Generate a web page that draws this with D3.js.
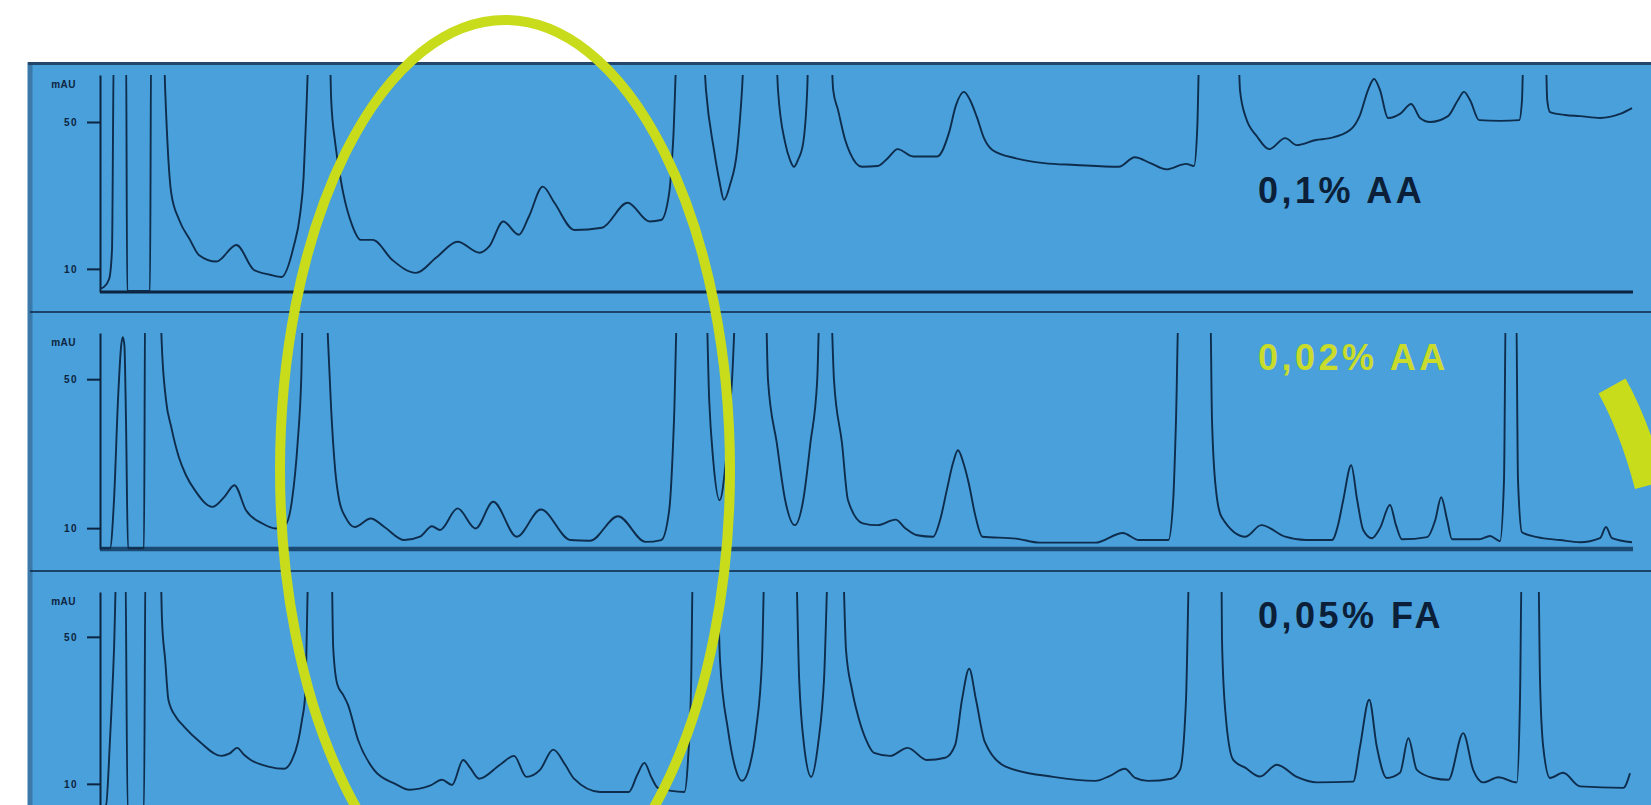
<!DOCTYPE html>
<html><head><meta charset="utf-8">
<script src="https://cdn.jsdelivr.net/npm/d3@7"></script>
<style>html,body{margin:0;padding:0;background:#fff;overflow:hidden}svg{display:block}</style>
</head><body>
<svg id="chart" width="1651" height="805"></svg>
<script>
// ---- data (retention time in min, absorbance in mAU) ----
const sampleLabels = ["0,1% AA", "0,02% AA", "0,05% FA"];
const yTickValues = [10, 50];
const yUnit = "mAU";

const rt1 = [0.00,0.10,0.23,0.30,0.35,0.65,0.68,1.25,1.28,1.58,1.63,1.78,1.98,2.25,2.47,2.91,3.41,3.85,4.25,4.54,4.84,5.00,5.09,5.15,5.25,5.73,5.78,5.88,6.08,6.30,6.52,6.82,7.31,7.90,8.40,8.94,9.49,9.73,10.08,10.47,10.72,11.07,11.36,11.86,12.55,13.19,13.74,14.03,14.23,14.33,14.45,15.05,15.15,15.35,15.48,15.60,15.75,15.93,16.05,16.13,16.88,16.95,17.13,17.25,17.35,17.45,17.58,17.68,17.73,18.25,18.33,18.45,18.63,18.75,19.05,19.44,19.70,19.94,20.33,20.93,21.22,21.40,21.60,21.75,21.92,22.10,22.31,22.90,23.60,24.39,25.47,25.87,26.26,26.66,27.15,27.35,27.43,27.50,28.44,28.50,28.64,28.93,29.23,29.63,29.92,30.40,30.75,31.25,31.50,31.70,31.85,32.00,32.20,32.50,32.78,33.00,33.25,33.70,33.95,34.10,34.25,34.48,35.00,35.48,35.55,35.60,36.13,36.18,36.25,36.63,37.00,37.50,38.00,38.30];
const abs1 = [4.6,5.1,7.3,15.2,75,75,4.0,4.0,75,75,58.7,30.7,23.3,17.9,13.8,12.0,16.5,9.7,8.4,7.8,16.0,24.7,35.0,50.5,75,75,56,44.3,30.7,22.0,17.9,17.9,12.4,8.9,13.0,17.4,14.4,16.1,22.9,19.3,24.2,32.4,28.0,20.6,21.2,28.0,22.9,23.3,30.7,45.1,75,75,58.7,42.4,34.2,28.8,32.9,42.4,58.7,75,75,58.7,44.3,39.7,37.8,39.7,44.3,58.7,75,75,58.7,53.3,45.1,41.6,37.8,38.0,40.2,42.6,40.6,40.6,46.9,54.6,58.2,56.0,51.4,45.6,42.4,40.1,38.8,38.3,37.8,40.4,38.8,37.1,38.6,38.0,47.8,75,75,58.7,51.4,46.0,42.6,45.6,43.7,45.1,45.6,47.8,51.9,58.7,61.7,58.7,51.1,52.2,54.9,51.1,50.0,51.6,56.0,58.2,56.0,50.5,50.3,50.5,56.0,75,75,56.0,52.7,51.9,51.6,51.1,52.2,53.8];

const rt2 = [0.00,0.25,0.35,0.45,0.53,0.57,0.61,0.65,0.70,1.10,1.13,1.50,1.54,1.65,1.78,1.97,2.15,2.37,2.81,3.11,3.36,3.65,4.05,4.39,4.63,4.80,4.94,5.03,5.09,5.65,5.70,5.78,5.88,5.98,6.15,6.37,6.77,7.11,7.61,8.00,8.30,8.50,8.94,9.39,9.83,10.42,11.02,11.76,12.25,12.95,13.64,14.03,14.23,14.35,14.45,15.14,15.23,15.33,15.49,15.65,15.80,15.93,16.63,16.70,16.92,17.13,17.37,17.58,17.76,17.93,18.01,18.25,18.35,18.55,18.70,19.07,19.44,19.89,20.13,20.43,20.83,21.00,21.17,21.33,21.45,21.58,21.72,21.88,22.06,22.90,23.50,24.88,25.57,25.97,26.71,26.83,26.90,26.98,27.75,27.80,27.90,28.04,28.64,29.03,29.63,30.15,30.80,30.95,31.08,31.28,31.43,31.58,31.80,32.00,32.25,32.40,32.55,33.18,33.38,33.53,33.68,33.80,34.48,34.75,35.00,35.10,35.15,35.40,35.45,35.55,35.93,36.50,37.00,37.50,37.65,37.80,38.30];
const abs2 = [4.6,4.6,17.5,44.4,59.1,61.3,59.1,39.0,4.6,4.6,75,75,60.5,44.4,37.2,29.1,24.2,20.2,15.7,18.4,21.5,14.8,11.3,9.9,10.8,17.5,32.8,49.7,75,75,60.5,41.7,25.6,17.5,12.7,10.3,12.6,10.3,6.8,7.7,10.5,9.5,15.3,9.9,17.1,7.7,15.0,6.8,6.6,13.2,6.3,6.8,14.8,39.0,75,75,44.4,28.3,17.5,28.3,49.7,75,75,49.7,32.8,17.5,10.8,17.5,32.8,49.7,75,75,49.7,32.8,17.5,11.3,10.8,12.3,10.0,8.1,7.7,12.1,20.2,27.7,30.9,27.7,22.0,13.5,7.7,7.2,6.1,6.1,8.7,6.8,6.8,17.5,39.0,75,75,39.0,20.2,13.0,7.7,10.8,7.7,6.8,6.8,10.8,17.5,26.9,17.5,9.5,7.3,10.0,16.2,10.8,7.0,7.6,12.1,18.3,12.1,7.0,7.0,7.9,6.5,22.9,75,75,22.9,8.9,7.6,6.8,6.2,7.3,10.3,7.3,6.2];

const rt3 = [0.00,0.15,0.25,0.35,0.43,0.63,0.69,1.10,1.14,1.50,1.55,1.63,1.71,1.90,2.10,2.50,3.03,3.23,3.43,3.60,3.77,4.21,4.60,4.80,4.95,5.05,5.13,5.23,5.78,5.83,5.93,6.08,6.20,6.45,6.85,7.38,7.73,8.25,8.55,8.80,9.08,9.25,9.48,10.00,10.35,10.66,11.00,11.33,11.63,11.85,12.50,13.22,13.43,13.61,13.78,13.95,14.61,14.70,14.78,14.83,15.40,15.50,15.70,15.88,16.05,16.23,16.40,16.55,16.63,17.38,17.48,17.60,17.78,17.95,18.10,18.23,18.55,18.65,18.80,18.95,19.15,19.35,19.75,20.19,20.67,21.13,21.38,21.55,21.73,21.90,22.12,22.64,23.83,24.88,25.25,25.62,25.88,26.20,26.78,27.00,27.15,27.25,28.03,28.05,28.13,28.33,28.63,29.00,29.42,29.92,30.42,31.33,31.50,31.73,31.92,32.17,32.50,32.71,32.92,33.33,33.71,34.08,34.33,34.58,34.96,35.42,35.50,35.55,35.95,36.00,36.08,36.25,36.58,37.00,38.08,38.25];
const abs3 = [3.5,4.2,22.0,46.5,75,75,3.5,3.5,75,75,54.6,43.7,32.9,28.2,25.6,21.4,17.6,18.2,19.8,17.9,16.5,14.7,14.1,16.5,21.4,27.4,34.2,75,75,47.1,37.2,34.2,31.5,22.0,13.8,10.0,8.4,9.5,11.1,9.7,16.5,14.4,11.4,15.2,17.6,11.9,13.8,19.3,15.2,11.4,7.8,7.8,12.4,15.7,11.9,8.9,7.8,16.5,38.3,75,75,43.7,24.7,14.4,10.8,14.4,24.7,43.7,75,75,38.3,20.6,11.9,20.6,38.3,75,75,46.5,35.6,28.5,22.0,18.4,17.6,19.8,16.5,17.1,20.6,32.9,41.3,32.9,21.4,14.7,11.9,10.8,12.2,14.1,11.6,10.8,11.4,13.8,32.9,75,75,49.2,30.1,16.5,14.4,12.0,15.2,11.9,10.4,10.6,20.1,32.9,20.1,11.6,13.0,22.4,13.8,11.6,11.1,23.8,13.8,10.4,11.8,10.4,32.9,75,75,38.3,20.1,11.6,13.0,9.3,8.9,12.9];

const rtRange = [0, 38.325];
const absRanges = [[3.7, 62.8], [4.4, 62.4], [3.7, 62.2]];

// ---- layout ----
const svg = d3.select("#chart");
const W = 1651, H = 805;
const panelTop = [75, 333, 592];
const panelBottom = [292, 549, 807];
const labelBaseline = [203, 370, 628];
const labelColor = ["#0b2038", "#c9dc2c", "#0b2038"];
const traces = [[rt1, abs1], [rt2, abs2], [rt3, abs3]];

const x = d3.scaleLinear().domain(rtRange).range([100, 1633]);

// background panel
svg.append("rect").attr("x", 28).attr("y", 62).attr("width", W - 28).attr("height", H - 62).attr("fill", "#4aa0da");
svg.append("line").attr("x1", 30).attr("x2", 30).attr("y1", 62).attr("y2", H).attr("stroke", "#3a79aa").attr("stroke-width", 5);
svg.append("line").attr("x1", 28).attr("x2", W).attr("y1", 63.5).attr("y2", 63.5).attr("stroke", "#23476b").attr("stroke-width", 3);
[312, 571].forEach(yy => {
  svg.append("line").attr("x1", 30).attr("x2", W).attr("y1", yy).attr("y2", yy).attr("stroke", "#0d2440").attr("stroke-width", 1.6);
});

const defs = svg.append("defs");

traces.forEach(([rt, ab], i) => {
  const y = d3.scaleLinear().domain(absRanges[i]).range([panelBottom[i], panelTop[i]]);
  const g = svg.append("g");
  defs.append("clipPath").attr("id", "clip" + i).append("rect")
    .attr("x", 99).attr("y", panelTop[i]).attr("width", 1545).attr("height", panelBottom[i] - panelTop[i] + 2);

  // baseline
  g.append("line").attr("x1", x(rtRange[0])).attr("x2", x(rtRange[1]))
    .attr("y1", panelBottom[i]).attr("y2", panelBottom[i])
    .attr("stroke", i === 1 ? "#1b4a74" : "#0d2440").attr("stroke-width", i === 1 ? 4.5 : 2.8);

  // axis
  const ax = g.append("g").attr("transform", `translate(${x(rtRange[0])},0)`)
    .call(d3.axisLeft(y).tickValues(yTickValues).tickSize(13).tickPadding(9).tickSizeOuter(0));
  ax.select(".domain").attr("stroke", "#0d2440").attr("stroke-width", 2);
  ax.selectAll(".tick line").attr("stroke", "#0d2440").attr("stroke-width", 2);
  ax.selectAll(".tick text").attr("fill", "#0d2440").attr("font-family", "Liberation Sans, Arial, sans-serif")
    .attr("font-weight", "bold").attr("font-size", 10).style("letter-spacing", "1.5px");
  g.append("text").attr("x", 76).attr("y", panelTop[i] + 13).attr("text-anchor", "end")
    .attr("font-family", "Liberation Sans, Arial, sans-serif").attr("font-weight", "bold").attr("font-size", 10)
    .style("letter-spacing", "0.5px").attr("fill", "#0d2440").text(yUnit);

  // trace
  const line = d3.line().x((d, k) => x(rt[k])).y(d => y(d)).curve(d3.curveMonotoneX);
  g.append("path").datum(ab).attr("clip-path", `url(#clip${i})`)
    .attr("d", line).attr("fill", "none").attr("stroke", "#0e2c4c").attr("stroke-width", 1.9)
    .attr("stroke-linejoin", "round");

  // label
  svg.append("text").attr("x", 1258).attr("y", labelBaseline[i])
    .attr("font-family", "Liberation Sans, Arial, sans-serif").attr("font-weight", "bold").attr("font-size", 36)
    .style("letter-spacing", "3.5px").attr("fill", labelColor[i]).text(sampleLabels[i]);
});

// highlight ellipse and arc
svg.append("ellipse").attr("cx", 505).attr("cy", 470).attr("rx", 225).attr("ry", 450)
  .attr("fill", "none").attr("stroke", "#c8dc1c").attr("stroke-width", 10);
svg.append("path").attr("d", "M1612,386 Q1634,425 1650,485")
  .attr("fill", "none").attr("stroke", "#c8dc1c").attr("stroke-width", 31).attr("stroke-linecap", "butt");
</script>
</body></html>
